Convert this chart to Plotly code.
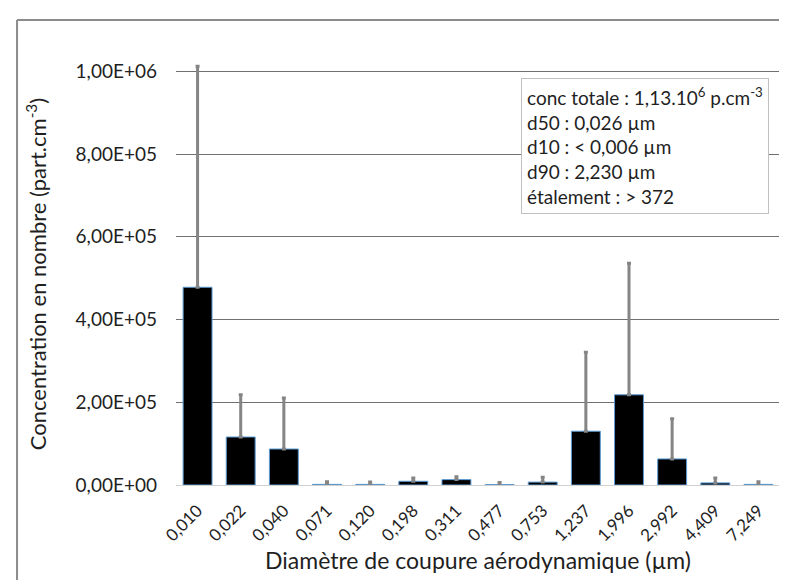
import plotly.graph_objects as go

# cut-off diameters (µm) and number concentrations (part.cm-3)
diametres = ["0,010", "0,022", "0,040", "0,071", "0,120", "0,198", "0,311",
             "0,477", "0,753", "1,237", "1,996", "2,992", "4,409", "7,249"]
concentration = [478000, 116000, 87000, 1500, 1500, 9000, 13000,
                 1000, 7000, 130000, 218000, 63000, 5000, 1500]
ecart_type = [534000, 102000, 123000, 6500, 5500, 8000, 7000,
              5000, 12000, 191000, 318000, 97000, 12000, 6500]

y_ticks = [0, 200000, 400000, 600000, 800000, 1000000]
y_ticktext = ["0,00E+00", "2,00E+05", "4,00E+05", "6,00E+05", "8,00E+05", "1,00E+06"]

FONT = "Lato, 'Open Sans', sans-serif"
TXT = "#1f1f1f"

fig = go.Figure()

fig.add_trace(
    go.Bar(
        x=diametres,
        y=concentration,
        marker=dict(color="black", line=dict(color="#5b9bd5", width=1)),
        error_y=dict(
            type="data",
            symmetric=False,
            array=ecart_type,
            arrayminus=[0] * len(ecart_type),
            color="#858585",
            thickness=3,
            width=2,
        ),
        showlegend=False,
    )
)

fig.update_layout(
    width=787,
    height=580,
    margin=dict(l=168, r=15, t=55, b=103),
    paper_bgcolor="white",
    plot_bgcolor="white",
    bargap=0.33,
    font=dict(family=FONT, color=TXT),
    xaxis=dict(
        tickangle=-45,
        tickfont=dict(size=17, color=TXT),
        ticklabelstandoff=8,
        showgrid=False,
        showline=True,
        linecolor="#d0d0d0",
        linewidth=1,
        title=dict(
            text="Diamètre de coupure aérodynamique (µm)",
            font=dict(size=23, color=TXT),
            standoff=8,
        ),
    ),
    yaxis=dict(
        range=[0, 1020000],
        tickvals=y_ticks,
        ticktext=y_ticktext,
        tickfont=dict(size=19, color=TXT),
        ticklabelstandoff=18,
        showgrid=True,
        gridcolor="#707070",
        gridwidth=1,
        zeroline=False,
        title=dict(
            text="Concentration en nombre (part.cm<sup>-3</sup>)",
            font=dict(size=22, color=TXT),
            standoff=22,
        ),
    ),
)

# statistics box
fig.add_annotation(
    xref="paper",
    yref="paper",
    x=0.571,
    y=0.965,
    xanchor="left",
    yanchor="top",
    align="left",
    showarrow=False,
    text=(
        "conc totale : 1,13.10<sup>6</sup> p.cm<sup>-3</sup><br>"
        "d50 : 0,026 µm<br>"
        "d10 : < 0,006 µm<br>"
        "d90 : 2,230 µm<br>"
        "étalement : > 372"
    ),
    font=dict(size=19, color=TXT, family=FONT),
    bgcolor="white",
    bordercolor="#c0c0c0",
    borderwidth=1,
    borderpad=5,
)

# outer chart frame (top and left edges visible)
fig.add_shape(type="line", xref="paper", yref="paper",
              x0=-0.2632, x1=1.1, y0=1.1019, y1=1.1019,
              line=dict(color="#8c8c8c", width=2))
fig.add_shape(type="line", xref="paper", yref="paper",
              x0=-0.2632, x1=-0.2632, y0=1.1019, y1=-0.4,
              line=dict(color="#8c8c8c", width=2))

fig.write_html("out.html")
